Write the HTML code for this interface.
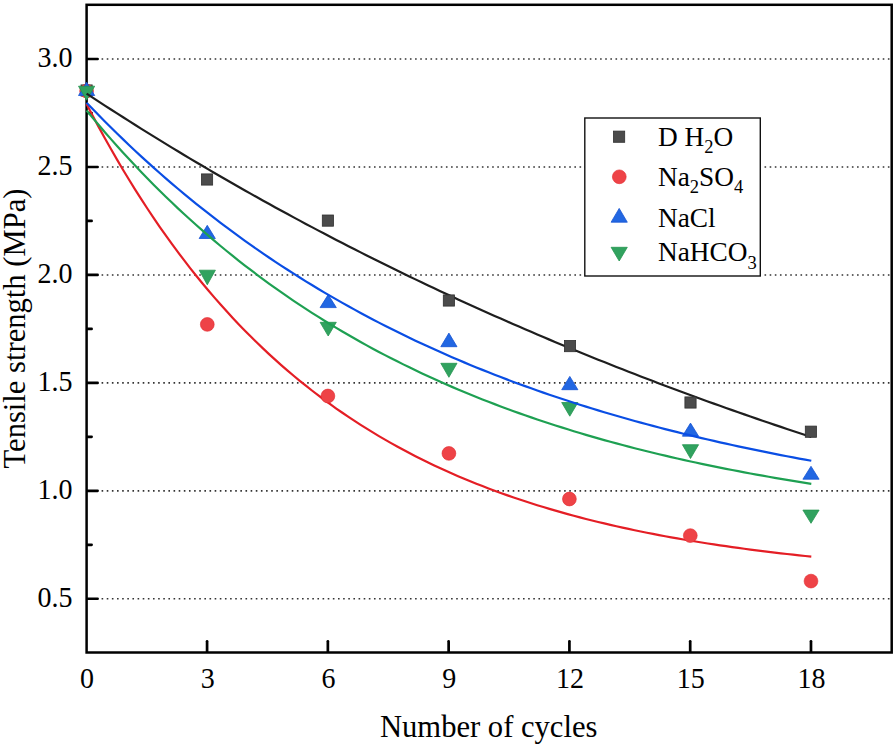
<!DOCTYPE html>
<html><head><meta charset="utf-8"><style>
html,body{margin:0;padding:0;background:#fff;}
body{width:896px;height:748px;overflow:hidden;}
svg{display:block;}
.t{font-family:"Liberation Serif",serif;font-size:28px;fill:#000;}
.ti{font-size:30.6px;}
.lg{font-size:27.3px;}
.sub{font-size:18.5px;}
</style></head><body>
<svg width="896" height="748" viewBox="0 0 896 748">
<rect width="896" height="748" fill="#fff"/>
<line x1="101.6" y1="59.02" x2="889.6" y2="59.02" stroke="#333" stroke-width="1.6" stroke-dasharray="1.6 3.539"/>
<line x1="101.6" y1="166.98" x2="889.6" y2="166.98" stroke="#333" stroke-width="1.6" stroke-dasharray="1.6 3.539"/>
<line x1="101.6" y1="274.93" x2="889.6" y2="274.93" stroke="#333" stroke-width="1.6" stroke-dasharray="1.6 3.539"/>
<line x1="101.6" y1="382.88" x2="889.6" y2="382.88" stroke="#333" stroke-width="1.6" stroke-dasharray="1.6 3.539"/>
<line x1="101.6" y1="490.83" x2="889.6" y2="490.83" stroke="#333" stroke-width="1.6" stroke-dasharray="1.6 3.539"/>
<line x1="101.6" y1="598.77" x2="889.6" y2="598.77" stroke="#333" stroke-width="1.6" stroke-dasharray="1.6 3.539"/>
<rect x="86.6" y="4.8" width="805.1" height="647.7" fill="none" stroke="#000" stroke-width="2.5"/>
<line x1="87.6" y1="59.02" x2="97.60" y2="59.02" stroke="#000" stroke-width="2.7" stroke-linecap="round"/>
<line x1="87.6" y1="113.00" x2="91.60" y2="113.00" stroke="#000" stroke-width="2.7" stroke-linecap="round"/>
<line x1="87.6" y1="166.98" x2="97.60" y2="166.98" stroke="#000" stroke-width="2.7" stroke-linecap="round"/>
<line x1="87.6" y1="220.95" x2="91.60" y2="220.95" stroke="#000" stroke-width="2.7" stroke-linecap="round"/>
<line x1="87.6" y1="274.93" x2="97.60" y2="274.93" stroke="#000" stroke-width="2.7" stroke-linecap="round"/>
<line x1="87.6" y1="328.90" x2="91.60" y2="328.90" stroke="#000" stroke-width="2.7" stroke-linecap="round"/>
<line x1="87.6" y1="382.88" x2="97.60" y2="382.88" stroke="#000" stroke-width="2.7" stroke-linecap="round"/>
<line x1="87.6" y1="436.85" x2="91.60" y2="436.85" stroke="#000" stroke-width="2.7" stroke-linecap="round"/>
<line x1="87.6" y1="490.83" x2="97.60" y2="490.83" stroke="#000" stroke-width="2.7" stroke-linecap="round"/>
<line x1="87.6" y1="544.80" x2="91.60" y2="544.80" stroke="#000" stroke-width="2.7" stroke-linecap="round"/>
<line x1="87.6" y1="598.77" x2="97.60" y2="598.77" stroke="#000" stroke-width="2.7" stroke-linecap="round"/>
<line x1="207.08" y1="651.5" x2="207.08" y2="641.30" stroke="#000" stroke-width="2.7" stroke-linecap="round"/>
<line x1="327.86" y1="651.5" x2="327.86" y2="641.30" stroke="#000" stroke-width="2.7" stroke-linecap="round"/>
<line x1="448.64" y1="651.5" x2="448.64" y2="641.30" stroke="#000" stroke-width="2.7" stroke-linecap="round"/>
<line x1="569.42" y1="651.5" x2="569.42" y2="641.30" stroke="#000" stroke-width="2.7" stroke-linecap="round"/>
<line x1="690.20" y1="651.5" x2="690.20" y2="641.30" stroke="#000" stroke-width="2.7" stroke-linecap="round"/>
<line x1="810.98" y1="651.5" x2="810.98" y2="641.30" stroke="#000" stroke-width="2.7" stroke-linecap="round"/>
<rect x="81.00" y="84.90" width="11.2" height="11.2" fill="#4b4b4b" stroke="#303030" stroke-width="0.8"/>
<circle cx="86.60" cy="91.00" r="6.9" fill="#ee4347" stroke="#e2262c" stroke-width="0.6"/>
<path d="M86.60,82.20 L94.70,95.50 L78.50,95.50 Z" fill="#2267e2" stroke="#1553d2" stroke-width="0.8" stroke-linejoin="round"/>
<path d="M78.50,86.20 L94.70,86.20 L86.60,100.20 Z" fill="#31a25f" stroke="#24964f" stroke-width="0.8" stroke-linejoin="round"/>
<path d="M207.25,225.30 L215.35,238.50 L199.15,238.50 Z" fill="#2267e2" stroke="#1553d2" stroke-width="0.8" stroke-linejoin="round"/>
<path d="M328.20,294.60 L336.30,307.60 L320.10,307.60 Z" fill="#2267e2" stroke="#1553d2" stroke-width="0.8" stroke-linejoin="round"/>
<path d="M448.90,333.10 L457.00,346.70 L440.80,346.70 Z" fill="#2267e2" stroke="#1553d2" stroke-width="0.8" stroke-linejoin="round"/>
<path d="M569.80,376.40 L577.90,389.70 L561.70,389.70 Z" fill="#2267e2" stroke="#1553d2" stroke-width="0.8" stroke-linejoin="round"/>
<path d="M690.50,423.10 L698.60,436.20 L682.40,436.20 Z" fill="#2267e2" stroke="#1553d2" stroke-width="0.8" stroke-linejoin="round"/>
<path d="M811.00,466.30 L819.10,479.20 L802.90,479.20 Z" fill="#2267e2" stroke="#1553d2" stroke-width="0.8" stroke-linejoin="round"/>
<path d="M199.20,270.20 L215.40,270.20 L207.30,284.80 Z" fill="#31a25f" stroke="#24964f" stroke-width="0.8" stroke-linejoin="round"/>
<path d="M320.10,322.30 L336.30,322.30 L328.20,336.00 Z" fill="#31a25f" stroke="#24964f" stroke-width="0.8" stroke-linejoin="round"/>
<path d="M440.80,363.30 L457.00,363.30 L448.90,377.30 Z" fill="#31a25f" stroke="#24964f" stroke-width="0.8" stroke-linejoin="round"/>
<path d="M561.70,402.50 L577.90,402.50 L569.80,416.20 Z" fill="#31a25f" stroke="#24964f" stroke-width="0.8" stroke-linejoin="round"/>
<path d="M682.40,444.70 L698.60,444.70 L690.50,458.50 Z" fill="#31a25f" stroke="#24964f" stroke-width="0.8" stroke-linejoin="round"/>
<path d="M802.90,510.10 L819.10,510.10 L811.00,523.30 Z" fill="#31a25f" stroke="#24964f" stroke-width="0.8" stroke-linejoin="round"/>
<path d="M86.60,93.61 L92.69,97.61 L98.78,101.59 L104.87,105.55 L110.96,109.49 L117.05,113.40 L123.14,117.29 L129.23,121.16 L135.32,125.00 L141.41,128.83 L147.50,132.62 L153.59,136.40 L159.68,140.16 L165.77,143.89 L171.86,147.60 L177.95,151.29 L184.04,154.95 L190.13,158.60 L196.22,162.22 L202.31,165.82 L208.40,169.40 L214.49,172.96 L220.58,176.50 L226.67,180.02 L232.76,183.52 L238.85,187.00 L244.94,190.45 L251.03,193.89 L257.12,197.30 L263.21,200.70 L269.30,204.07 L275.39,207.43 L281.48,210.77 L287.57,214.08 L293.66,217.38 L299.75,220.65 L305.84,223.91 L311.93,227.15 L318.02,230.37 L324.11,233.57 L330.20,236.75 L336.29,239.92 L342.38,243.06 L348.47,246.19 L354.56,249.29 L360.65,252.38 L366.74,255.45 L372.83,258.51 L378.92,261.54 L385.01,264.56 L391.10,267.56 L397.19,270.54 L403.28,273.50 L409.37,276.45 L415.46,279.38 L421.55,282.29 L427.64,285.18 L433.73,288.06 L439.82,290.92 L445.91,293.76 L451.99,296.59 L458.08,299.40 L464.17,302.20 L470.26,304.97 L476.35,307.73 L482.44,310.48 L488.53,313.21 L494.62,315.92 L500.71,318.61 L506.80,321.30 L512.89,323.96 L518.98,326.61 L525.07,329.24 L531.16,331.86 L537.25,334.46 L543.34,337.05 L549.43,339.62 L555.52,342.18 L561.61,344.72 L567.70,347.25 L573.79,349.76 L579.88,352.25 L585.97,354.74 L592.06,357.20 L598.15,359.66 L604.24,362.10 L610.33,364.52 L616.42,366.93 L622.51,369.33 L628.60,371.71 L634.69,374.07 L640.78,376.43 L646.87,378.77 L652.96,381.09 L659.05,383.41 L665.14,385.70 L671.23,387.99 L677.32,390.26 L683.41,392.52 L689.50,394.76 L695.59,397.00 L701.68,399.21 L707.77,401.42 L713.86,403.61 L719.95,405.79 L726.04,407.96 L732.13,410.11 L738.22,412.25 L744.31,414.38 L750.40,416.50 L756.49,418.60 L762.58,420.69 L768.67,422.77 L774.76,424.84 L780.85,426.89 L786.94,428.93 L793.03,430.97 L799.12,432.98 L805.21,434.99 L811.30,436.98" fill="none" stroke="#1e1e1e" stroke-width="2.2" stroke-linejoin="round"/>
<path d="M86.60,104.05 L92.69,115.73 L98.78,127.11 L104.87,138.22 L110.96,149.06 L117.05,159.64 L123.14,169.95 L129.23,180.02 L135.32,189.83 L141.41,199.41 L147.50,208.76 L153.59,217.87 L159.68,226.76 L165.77,235.44 L171.86,243.90 L177.95,252.16 L184.04,260.21 L190.13,268.07 L196.22,275.74 L202.31,283.22 L208.40,290.51 L214.49,297.63 L220.58,304.57 L226.67,311.35 L232.76,317.96 L238.85,324.40 L244.94,330.69 L251.03,336.83 L257.12,342.81 L263.21,348.65 L269.30,354.35 L275.39,359.91 L281.48,365.33 L287.57,370.62 L293.66,375.78 L299.75,380.81 L305.84,385.72 L311.93,390.51 L318.02,395.19 L324.11,399.75 L330.20,404.19 L336.29,408.53 L342.38,412.77 L348.47,416.90 L354.56,420.93 L360.65,424.86 L366.74,428.69 L372.83,432.43 L378.92,436.08 L385.01,439.64 L391.10,443.11 L397.19,446.50 L403.28,449.81 L409.37,453.03 L415.46,456.18 L421.55,459.25 L427.64,462.24 L433.73,465.16 L439.82,468.01 L445.91,470.79 L451.99,473.50 L458.08,476.15 L464.17,478.73 L470.26,481.25 L476.35,483.71 L482.44,486.10 L488.53,488.44 L494.62,490.72 L500.71,492.95 L506.80,495.12 L512.89,497.23 L518.98,499.30 L525.07,501.32 L531.16,503.28 L537.25,505.20 L543.34,507.07 L549.43,508.90 L555.52,510.68 L561.61,512.41 L567.70,514.11 L573.79,515.76 L579.88,517.38 L585.97,518.95 L592.06,520.48 L598.15,521.98 L604.24,523.44 L610.33,524.87 L616.42,526.26 L622.51,527.62 L628.60,528.94 L634.69,530.23 L640.78,531.49 L646.87,532.72 L652.96,533.92 L659.05,535.09 L665.14,536.23 L671.23,537.34 L677.32,538.43 L683.41,539.48 L689.50,540.52 L695.59,541.53 L701.68,542.51 L707.77,543.47 L713.86,544.40 L719.95,545.32 L726.04,546.21 L732.13,547.08 L738.22,547.93 L744.31,548.75 L750.40,549.56 L756.49,550.35 L762.58,551.11 L768.67,551.86 L774.76,552.59 L780.85,553.31 L786.94,554.00 L793.03,554.68 L799.12,555.34 L805.21,555.99 L811.30,556.62" fill="none" stroke="#e41e25" stroke-width="2.2" stroke-linejoin="round"/>
<path d="M86.60,102.66 L92.69,109.01 L98.78,115.27 L104.87,121.44 L110.96,127.52 L117.05,133.51 L123.14,139.41 L129.23,145.23 L135.32,150.96 L141.41,156.60 L147.50,162.16 L153.59,167.65 L159.68,173.05 L165.77,178.37 L171.86,183.61 L177.95,188.77 L184.04,193.86 L190.13,198.88 L196.22,203.82 L202.31,208.69 L208.40,213.48 L214.49,218.21 L220.58,222.86 L226.67,227.45 L232.76,231.97 L238.85,236.43 L244.94,240.82 L251.03,245.14 L257.12,249.40 L263.21,253.60 L269.30,257.74 L275.39,261.81 L281.48,265.83 L287.57,269.78 L293.66,273.68 L299.75,277.52 L305.84,281.31 L311.93,285.04 L318.02,288.71 L324.11,292.33 L330.20,295.90 L336.29,299.41 L342.38,302.88 L348.47,306.29 L354.56,309.65 L360.65,312.96 L366.74,316.23 L372.83,319.44 L378.92,322.61 L385.01,325.73 L391.10,328.81 L397.19,331.84 L403.28,334.83 L409.37,337.77 L415.46,340.67 L421.55,343.52 L427.64,346.34 L433.73,349.11 L439.82,351.84 L445.91,354.54 L451.99,357.19 L458.08,359.80 L464.17,362.38 L470.26,364.91 L476.35,367.41 L482.44,369.88 L488.53,372.31 L494.62,374.70 L500.71,377.05 L506.80,379.37 L512.89,381.66 L518.98,383.92 L525.07,386.14 L531.16,388.32 L537.25,390.48 L543.34,392.60 L549.43,394.70 L555.52,396.76 L561.61,398.79 L567.70,400.79 L573.79,402.77 L579.88,404.71 L585.97,406.63 L592.06,408.51 L598.15,410.37 L604.24,412.20 L610.33,414.01 L616.42,415.79 L622.51,417.54 L628.60,419.27 L634.69,420.97 L640.78,422.64 L646.87,424.29 L652.96,425.92 L659.05,427.53 L665.14,429.10 L671.23,430.66 L677.32,432.19 L683.41,433.71 L689.50,435.19 L695.59,436.66 L701.68,438.11 L707.77,439.53 L713.86,440.93 L719.95,442.32 L726.04,443.68 L732.13,445.02 L738.22,446.34 L744.31,447.65 L750.40,448.93 L756.49,450.20 L762.58,451.44 L768.67,452.67 L774.76,453.88 L780.85,455.07 L786.94,456.25 L793.03,457.41 L799.12,458.55 L805.21,459.67 L811.30,460.78" fill="none" stroke="#0a4ee4" stroke-width="2.2" stroke-linejoin="round"/>
<path d="M86.60,110.52 L92.69,117.86 L98.78,125.07 L104.87,132.16 L110.96,139.13 L117.05,145.98 L123.14,152.71 L129.23,159.33 L135.32,165.83 L141.41,172.22 L147.50,178.50 L153.59,184.67 L159.68,190.74 L165.77,196.70 L171.86,202.57 L177.95,208.33 L184.04,213.99 L190.13,219.55 L196.22,225.02 L202.31,230.40 L208.40,235.68 L214.49,240.87 L220.58,245.98 L226.67,250.99 L232.76,255.92 L238.85,260.77 L244.94,265.53 L251.03,270.21 L257.12,274.81 L263.21,279.33 L269.30,283.78 L275.39,288.14 L281.48,292.44 L287.57,296.65 L293.66,300.80 L299.75,304.88 L305.84,308.88 L311.93,312.82 L318.02,316.69 L324.11,320.49 L330.20,324.23 L336.29,327.90 L342.38,331.51 L348.47,335.06 L354.56,338.55 L360.65,341.98 L366.74,345.34 L372.83,348.66 L378.92,351.91 L385.01,355.11 L391.10,358.25 L397.19,361.34 L403.28,364.38 L409.37,367.36 L415.46,370.30 L421.55,373.18 L427.64,376.01 L433.73,378.80 L439.82,381.54 L445.91,384.23 L451.99,386.87 L458.08,389.47 L464.17,392.02 L470.26,394.53 L476.35,397.00 L482.44,399.43 L488.53,401.81 L494.62,404.15 L500.71,406.46 L506.80,408.72 L512.89,410.94 L518.98,413.13 L525.07,415.28 L531.16,417.39 L537.25,419.46 L543.34,421.50 L549.43,423.51 L555.52,425.48 L561.61,427.42 L567.70,429.32 L573.79,431.19 L579.88,433.03 L585.97,434.83 L592.06,436.61 L598.15,438.36 L604.24,440.07 L610.33,441.76 L616.42,443.42 L622.51,445.04 L628.60,446.65 L634.69,448.22 L640.78,449.76 L646.87,451.28 L652.96,452.78 L659.05,454.25 L665.14,455.69 L671.23,457.11 L677.32,458.50 L683.41,459.87 L689.50,461.22 L695.59,462.54 L701.68,463.84 L707.77,465.12 L713.86,466.38 L719.95,467.61 L726.04,468.83 L732.13,470.02 L738.22,471.19 L744.31,472.34 L750.40,473.48 L756.49,474.59 L762.58,475.68 L768.67,476.76 L774.76,477.82 L780.85,478.85 L786.94,479.88 L793.03,480.88 L799.12,481.86 L805.21,482.83 L811.30,483.79" fill="none" stroke="#1ea052" stroke-width="2.2" stroke-linejoin="round"/>
<rect x="201.45" y="173.90" width="11.2" height="11.2" fill="#4b4b4b" stroke="#303030" stroke-width="0.8"/>
<rect x="322.30" y="215.00" width="11.2" height="11.2" fill="#4b4b4b" stroke="#303030" stroke-width="0.8"/>
<rect x="443.30" y="294.90" width="11.2" height="11.2" fill="#4b4b4b" stroke="#303030" stroke-width="0.8"/>
<rect x="564.40" y="340.50" width="11.2" height="11.2" fill="#4b4b4b" stroke="#303030" stroke-width="0.8"/>
<rect x="684.90" y="396.90" width="11.2" height="11.2" fill="#4b4b4b" stroke="#303030" stroke-width="0.8"/>
<rect x="805.30" y="426.10" width="11.2" height="11.2" fill="#4b4b4b" stroke="#303030" stroke-width="0.8"/>
<circle cx="207.30" cy="324.40" r="6.9" fill="#ee4347" stroke="#e2262c" stroke-width="0.6"/>
<circle cx="327.90" cy="396.00" r="6.9" fill="#ee4347" stroke="#e2262c" stroke-width="0.6"/>
<circle cx="448.90" cy="453.40" r="6.9" fill="#ee4347" stroke="#e2262c" stroke-width="0.6"/>
<circle cx="569.40" cy="499.00" r="6.9" fill="#ee4347" stroke="#e2262c" stroke-width="0.6"/>
<circle cx="690.30" cy="535.60" r="6.9" fill="#ee4347" stroke="#e2262c" stroke-width="0.6"/>
<circle cx="811.00" cy="581.10" r="6.9" fill="#ee4347" stroke="#e2262c" stroke-width="0.6"/>
<text transform="translate(72.6,67.38) scale(1,1.06)" text-anchor="end" class="t">3.0</text>
<text transform="translate(72.6,175.33) scale(1,1.06)" text-anchor="end" class="t">2.5</text>
<text transform="translate(72.6,283.28) scale(1,1.06)" text-anchor="end" class="t">2.0</text>
<text transform="translate(72.6,391.23) scale(1,1.06)" text-anchor="end" class="t">1.5</text>
<text transform="translate(72.6,499.18) scale(1,1.06)" text-anchor="end" class="t">1.0</text>
<text transform="translate(72.6,607.12) scale(1,1.06)" text-anchor="end" class="t">0.5</text>
<text transform="translate(86.90,687.6) scale(1,1.06)" text-anchor="middle" class="t">0</text>
<text transform="translate(207.68,687.6) scale(1,1.06)" text-anchor="middle" class="t">3</text>
<text transform="translate(328.46,687.6) scale(1,1.06)" text-anchor="middle" class="t">6</text>
<text transform="translate(449.24,687.6) scale(1,1.06)" text-anchor="middle" class="t">9</text>
<text transform="translate(570.02,687.6) scale(1,1.06)" text-anchor="middle" class="t">12</text>
<text transform="translate(690.80,687.6) scale(1,1.06)" text-anchor="middle" class="t">15</text>
<text transform="translate(811.58,687.6) scale(1,1.06)" text-anchor="middle" class="t">18</text>
<text x="488.7" y="737.1" text-anchor="middle" class="t ti">Number of cycles</text>
<text transform="translate(24.6,328.5) rotate(-90)" text-anchor="middle" class="t ti">Tensile strength (MPa)</text>
<rect x="584.8" y="118" width="175.5" height="158" fill="#fff" stroke="#111" stroke-width="1.4"/>
<rect x="613.50" y="131.10" width="11.2" height="11.2" fill="#4b4b4b" stroke="#303030" stroke-width="0.8"/>
<circle cx="619.30" cy="176.80" r="6.9" fill="#ee4347" stroke="#e2262c" stroke-width="0.6"/>
<path d="M619.20,208.40 L627.30,222.20 L611.10,222.20 Z" fill="#2267e2" stroke="#1553d2" stroke-width="0.8" stroke-linejoin="round"/>
<path d="M611.10,247.30 L627.30,247.30 L619.20,261.00 Z" fill="#31a25f" stroke="#24964f" stroke-width="0.8" stroke-linejoin="round"/>
<text x="658" y="145.5" class="t lg">D H<tspan class="sub" dy="7.4">2</tspan><tspan dy="-7.4">O</tspan></text>
<text x="658" y="185.7" class="t lg">Na<tspan class="sub" dy="7.4">2</tspan><tspan dy="-7.4">SO</tspan><tspan class="sub" dy="7.4">4</tspan></text>
<text x="658" y="226.7" class="t lg">NaCl</text>
<text x="658" y="261.2" class="t lg">NaHCO<tspan class="sub" dy="7.4">3</tspan></text>
</svg>
</body></html>
